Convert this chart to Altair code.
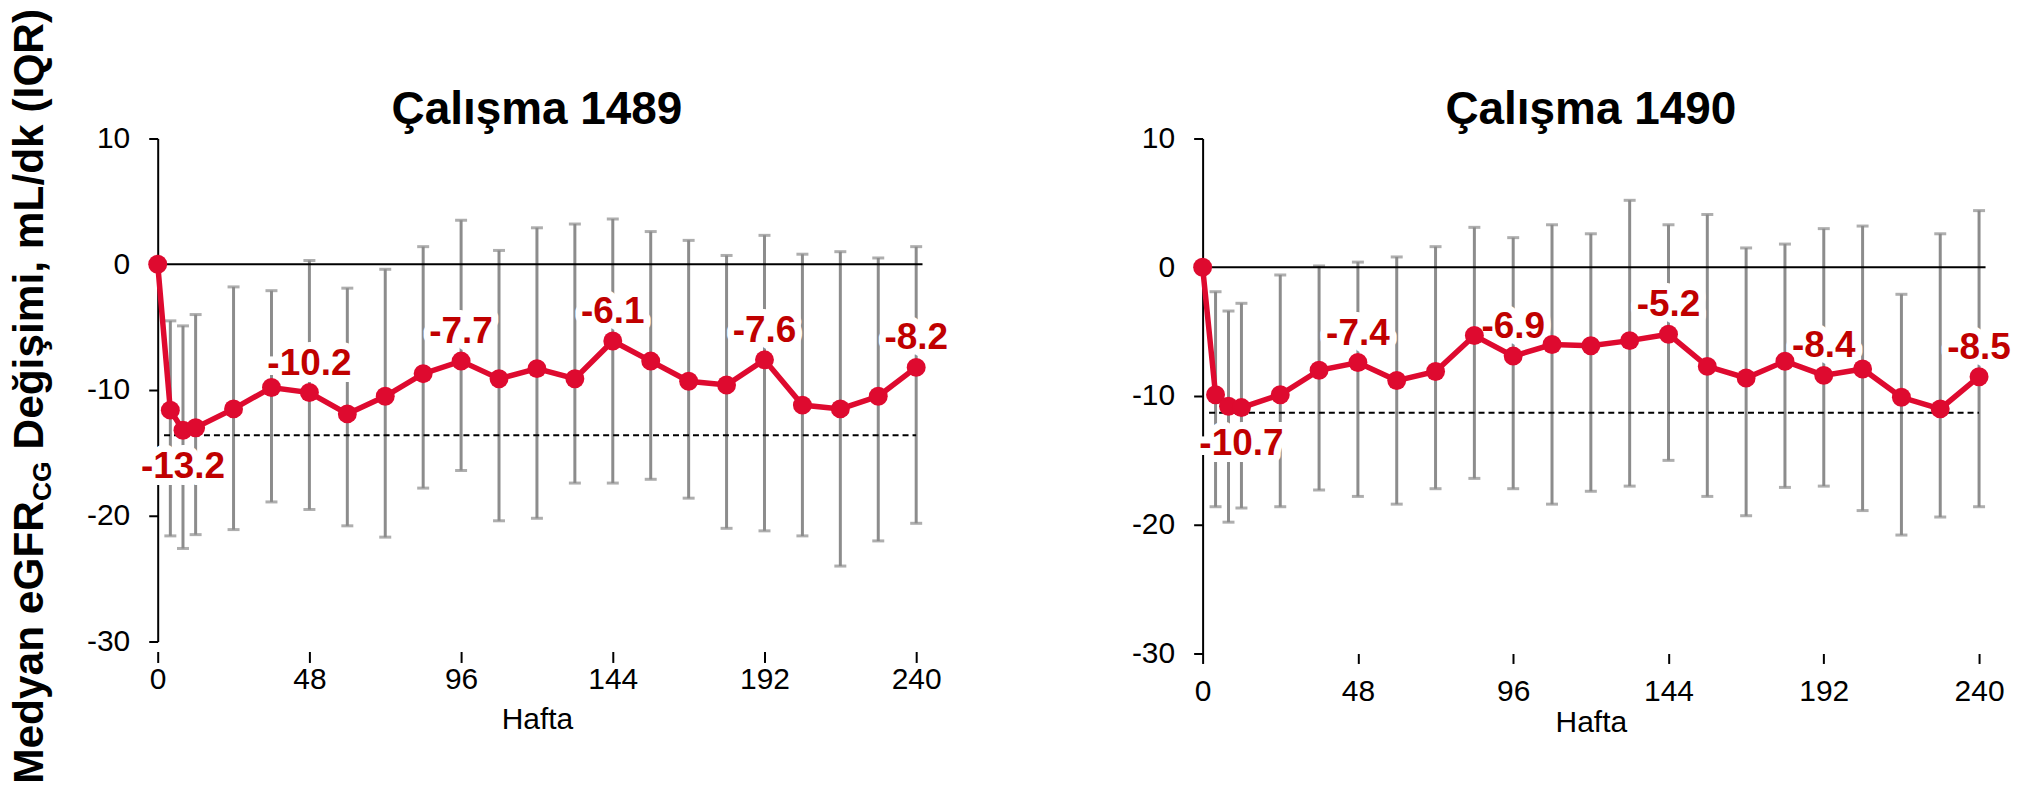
import altair as alt
import pandas as pd

# ---------------- data ----------------
weeks = [0, 4, 8, 12, 24, 36, 48, 60, 72, 84, 96, 108, 120, 132, 144, 156, 168, 180, 192, 204, 216, 228, 240]

med_1489 = [0, -11.6, -13.2, -13.0, -11.5, -9.8, -10.2, -11.9, -10.5, -8.7, -7.7, -9.1, -8.3, -9.1, -6.1,
            -7.7, -9.3, -9.6, -7.6, -11.2, -11.5, -10.5, -8.2]
q1_1489 = [None, -21.6, -22.6, -21.5, -21.1, -18.9, -19.5, -20.8, -21.7, -17.8, -16.4, -20.4, -20.2, -17.4,
           -17.4, -17.1, -18.6, -21.0, -21.2, -21.6, -24.0, -22.0, -20.6]
q3_1489 = [None, -4.5, -4.9, -4.0, -1.8, -2.1, 0.3, -1.9, -0.4, 1.4, 3.5, 1.1, 2.9, 3.2, 3.6, 2.6, 1.9, 0.7,
           2.3, 0.8, 1.0, 0.5, 1.4]

med_1490 = [0, -9.9, -10.8, -10.9, -9.9, -8.0, -7.4, -8.8, -8.1, -5.3, -6.9, -6.0, -6.1, -5.7, -5.2, -7.7,
            -8.6, -7.3, -8.4, -7.9, -10.1, -11.0, -8.5]
q1_1490 = [None, -18.6, -19.8, -18.7, -18.6, -17.3, -17.8, -18.4, -17.2, -16.4, -17.2, -18.4, -17.4, -17.0,
           -15.0, -17.8, -19.3, -17.1, -17.0, -18.9, -20.8, -19.4, -18.6]
q3_1490 = [None, -1.9, -3.4, -2.8, -0.6, 0.1, 0.4, 0.8, 1.6, 3.1, 2.3, 3.3, 2.6, 5.2, 3.3, 4.1, 1.5, 1.8,
           3.0, 3.2, -2.1, 2.6, 4.4]

ref_1489 = -13.6
ref_1490 = -11.3

lab_weeks_1489 = [8, 48, 96, 144, 192, 240]
lab_text_1489 = ["-13.2", "-10.2", "-7.7", "-6.1", "-7.6", "-8.2"]
lab_pos_1489 = ["below", "above", "above", "above", "above", "above"]

lab_weeks_1490 = [12, 48, 96, 144, 192, 240]
lab_text_1490 = ["-10.7", "-7.4", "-6.9", "-5.2", "-8.4", "-8.5"]
lab_pos_1490 = ["below", "above", "above", "above", "above", "above"]

x_ticks = [0, 48, 96, 144, 192, 240]
y_ticks = [10, 0, -10, -20, -30]
panel_titles = ["Çalışma 1489", "Çalışma 1490"]
x_title = "Hafta"
y_title_parts = ["Medyan eGFR", "CG", "Değişimi, mL/dk (IQR)"]

# ---------------- styles ----------------
FONT = "Liberation Sans"
RED = "#DE0A2F"
LABEL_RED = "#C00000"
GREY = "#8C8C8C"
TICK_FS = 30
LAB_FS = 37


def panel(title, med, q1, q3, ref, lw, lt, lp, width, height, x_offset, tick_size, label_pad,
          title_pad, ytitle=False):
    df = pd.DataFrame({"week": weeks, "median": med, "q1": q1, "q3": q3})
    lookup = dict(zip(weeks, med))
    lab = pd.DataFrame({"week": lw, "label": lt, "pos": lp, "median": [lookup[w] for w in lw]})

    xs = alt.Scale(domain=[0, 240], nice=False, zero=False)
    ys = alt.Scale(domain=[-30, 10], nice=False, zero=False)
    xax = alt.Axis(values=x_ticks, domain=False, ticks=True, tickSize=tick_size, tickWidth=2,
                   tickColor="black", offset=x_offset, labelFont=FONT, labelFontSize=TICK_FS,
                   labelColor="black", labelPadding=label_pad, labelAngle=0, labelFlush=False,
                   labelExpr="'' + datum.value",
                   title=x_title, titleFont=FONT, titleFontSize=30, titleFontWeight="normal",
                   titleColor="black", titlePadding=title_pad, grid=False)
    yax = alt.Axis(values=y_ticks, domain=True, domainColor="black", domainWidth=2,
                   tickColor="black", tickWidth=2, tickSize=9, labelFont=FONT, labelFontSize=TICK_FS,
                   labelColor="black", labelPadding=19, labelFlush=False,
                   labelExpr="'' + datum.value", title=None, grid=False)

    X = alt.X("week:Q", scale=xs, axis=xax)

    def Y(f):
        return alt.Y(f + ":Q", scale=ys, axis=yax)

    base = alt.Chart(df)
    bars = base.mark_rule(color=GREY, strokeWidth=3).encode(x=X, y=Y("q1"), y2="q3:Q")
    cap_hi = base.mark_tick(color=GREY, orient="horizontal", size=12, thickness=3).encode(x=X, y=Y("q3"))
    cap_lo = base.mark_tick(color=GREY, orient="horizontal", size=12, thickness=3).encode(x=X, y=Y("q1"))

    zero = alt.Chart(pd.DataFrame({"a": [0], "b": [242], "v": [0]})).mark_rule(
        color="black", strokeWidth=2).encode(x=alt.X("a:Q", scale=xs, axis=xax), x2="b:Q", y=Y("v"))
    dashed = alt.Chart(pd.DataFrame({"a": [2], "b": [240], "v": [ref]})).mark_rule(
        color="black", strokeWidth=2, strokeDash=[6, 4]).encode(
        x=alt.X("a:Q", scale=xs, axis=xax), x2="b:Q", y=Y("v"))

    line = base.mark_line(color=RED, strokeWidth=5.5).encode(x=X, y=Y("median"))
    pts = base.mark_circle(color=RED, size=360, opacity=1).encode(x=X, y=Y("median"))

    lab_base = alt.Chart(lab)
    layers_halo = []
    layers_text = []
    for pos, dy in (("above", -18), ("below", 48)):
        sub = lab_base.transform_filter(alt.datum.pos == pos)
        layers_halo.append(sub.mark_text(font=FONT, fontSize=LAB_FS, fontWeight="bold", fill="white",
                                         stroke="white", strokeWidth=14, strokeJoin="round",
                                         baseline="alphabetic", dy=dy).encode(
            x=X, y=Y("median"), text="label:N"))
        layers_text.append(sub.mark_text(font=FONT, fontSize=LAB_FS, fontWeight="bold", color=LABEL_RED,
                                         baseline="alphabetic", dy=dy).encode(
            x=X, y=Y("median"), text="label:N"))

    # panel title as a text mark, baseline just above the plot area
    ttl = alt.Chart(pd.DataFrame({"t": [title]})).mark_text(
        font=FONT, fontSize=46, fontWeight="bold", color="black", align="center",
        baseline="alphabetic").encode(x=alt.value(width / 2), y=alt.value(-15), text="t:N")

    layers = [bars, cap_hi, cap_lo, zero, dashed] + layers_halo + [line, pts] + layers_text + [ttl]

    if ytitle:
        fs_main, fs_sub = 42.5, 26.5
        x_base = -115
        space = 11.8
        y_top = -130
        y_start_p3 = y_top + 441.6
        y_start_p2 = y_start_p3 + space + 39.8
        y_start_p1 = y_start_p2 + 283.4
        for txt, yy, xx, fs in ((y_title_parts[0], y_start_p1, x_base, fs_main),
                                (y_title_parts[1], y_start_p2, x_base + 8, fs_sub),
                                (y_title_parts[2], y_start_p3, x_base, fs_main)):
            layers.append(alt.Chart(pd.DataFrame({"t": [txt]})).mark_text(
                font=FONT, fontSize=fs, fontWeight="bold", color="black", angle=270,
                align="left", baseline="alphabetic").encode(
                x=alt.value(xx), y=alt.value(yy), text="t:N"))

    return alt.layer(*layers).properties(width=width, height=height)


left = panel(panel_titles[0], med_1489, q1_1489, q3_1489, ref_1489, lab_weeks_1489, lab_text_1489,
             lab_pos_1489, 760, 504, 10, 11, 2, 10, ytitle=True)
right = panel(panel_titles[1], med_1490, q1_1490, q3_1490, ref_1490, lab_weeks_1490, lab_text_1490,
              lab_pos_1490, 778, 516, 0, 10, 13, 1)

chart = alt.hconcat(left, right, spacing=183).properties(
    padding={"left": 0, "right": 0, "top": 0, "bottom": 0}
).configure_view(strokeWidth=0)

chart.save("out.html", embed_options={"renderer": "svg", "actions": False})
